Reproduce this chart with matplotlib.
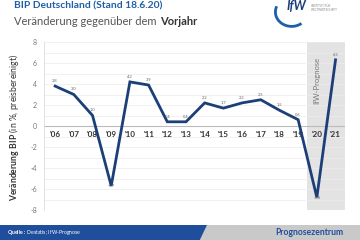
import matplotlib
matplotlib.use("Agg")
import matplotlib.pyplot as plt
from matplotlib.patches import Polygon, Rectangle, Arc

years = list(range(2006, 2022))
values = [3.8, 3.0, 1.0, -5.7, 4.2, 3.9, 0.4, 0.4, 2.2, 1.7, 2.2, 2.5, 1.5, 0.6, -6.8, 6.3]
year_labels = ["'06", "'07", "'08", "'09", "'10", "'11", "'12", "'13", "'14", "'15",
               "'16", "'17", "'18", "'19", "'20", "'21"]
yticks = [-8, -6, -4, -2, 0, 2, 4, 6, 8]

plt.rcParams['font.family'] = ['Lato', 'DejaVu Sans']
plt.rcParams['mathtext.fontset'] = 'custom'
plt.rcParams['mathtext.rm'] = 'Lato'
plt.rcParams['mathtext.bf'] = 'Lato:bold'

line_color = "#1c3f78"
blue = "#1f5fa8"

fig = plt.figure(figsize=(3.6, 2.4), dpi=100)
fig.patch.set_facecolor("white")

ax = fig.add_axes([0.122, 0.125, 0.836, 0.7])
ax.set_xlim(2005.4, 2021.5)
ax.set_ylim(-8, 8)

# forecast band
ax.axvspan(2019.5, 2021.5, color="#e3e3e3", zorder=0, lw=0)
ax.text(2020.0, 6.6, "IfW-Prognose", rotation=90, ha="center", va="top",
        fontsize=5.5, color="#777777", zorder=1)

# grid
for gy in range(-8, 9):
    ax.axhline(gy, color="#ececec", lw=0.5, zorder=0.5)
ax.axhline(0, color="#bbbbbb", lw=0.8, zorder=1)

ax.plot(years, values, color=line_color, lw=2.0, zorder=3, solid_joinstyle="miter")

for x, v in zip(years, values):
    lab = f"{v:.1f}".replace(".", ",")
    if v < 0:
        ax.text(x, v + 0.2, lab, ha="center", va="top", fontsize=3, color="#666666", zorder=4)
    else:
        ax.text(x, v + 0.35, lab, ha="center", va="bottom", fontsize=3, color="#666666", zorder=4)

for x, lab in zip(years, year_labels):
    ax.text(x, -0.45, lab, ha="center", va="top", fontsize=5.8, fontweight="bold",
            color="#333333", zorder=2)

ax.set_yticks(yticks)
ax.set_yticklabels([str(t) for t in yticks], fontsize=5, color="#777777")
ax.set_xticks([])
ax.tick_params(axis="y", length=0, pad=5)
for s in ["top", "right", "bottom"]:
    ax.spines[s].set_visible(False)
ax.spines["left"].set_color("#dddddd")
ax.spines["left"].set_linewidth(0.6)
ax.set_facecolor("white")

# y label with bold part
fig.text(0.04, 0.47, r"$\bf{Veränderung\ BIP}$ (in %, preisbereinigt)", rotation=90,
         ha="center", va="center", fontsize=6.2, color="#333333")

# header
fig.text(0.04, 0.995, "BIP Deutschland (Stand 18.6.20)", fontsize=7.4, fontweight="bold",
         color=blue, ha="left", va="top")
t = fig.text(0.04, 0.935, "Veränderung gegenüber dem", fontsize=8, color="#555555",
             ha="left", va="top")
fig.canvas.draw()
bb = t.get_window_extent().transformed(fig.transFigure.inverted())
fig.text(bb.x1 + 0.009, 0.935, "Vorjahr", fontsize=8, fontweight="bold", color="#333333",
         ha="left", va="top")

# logo approximation
fig.text(0.795, 1.0, "IfW", fontsize=9, fontweight="bold", style="italic",
         color="#1c3f78", ha="left", va="top")
fig.text(0.865, 0.985, "INSTITUT FÜR\nWELTWIRTSCHAFT", fontsize=2.2, color="#888888",
         ha="left", va="top", linespacing=1.0)
logo = Arc((0.81, 0.95), 0.09, 0.12, theta1=150, theta2=300, color="#1f5fa8",
           lw=2, transform=fig.transFigure)
fig.patches.append(logo)

# footer
fig.patches.append(Rectangle((0, 0), 1, 0.0625, transform=fig.transFigure,
                             facecolor="#c9c9c9", edgecolor="none"))
fig.patches.append(Polygon([(0, 0), (0.555, 0), (0.575, 0.0625), (0, 0.0625)],
                           closed=True, transform=fig.transFigure,
                           facecolor="#1f4e9c", edgecolor="none"))
fig.text(0.02, 0.031, r"$\bf{Quelle:}$ Destatis; IfW-Prognose", fontsize=3.7,
         color="white", ha="left", va="center")
fig.text(0.953, 0.031, "Prognosezentrum", fontsize=6.2, fontweight="bold",
         color="#1f4e9c", ha="right", va="center")

fig.savefig("out.png", dpi=100)
